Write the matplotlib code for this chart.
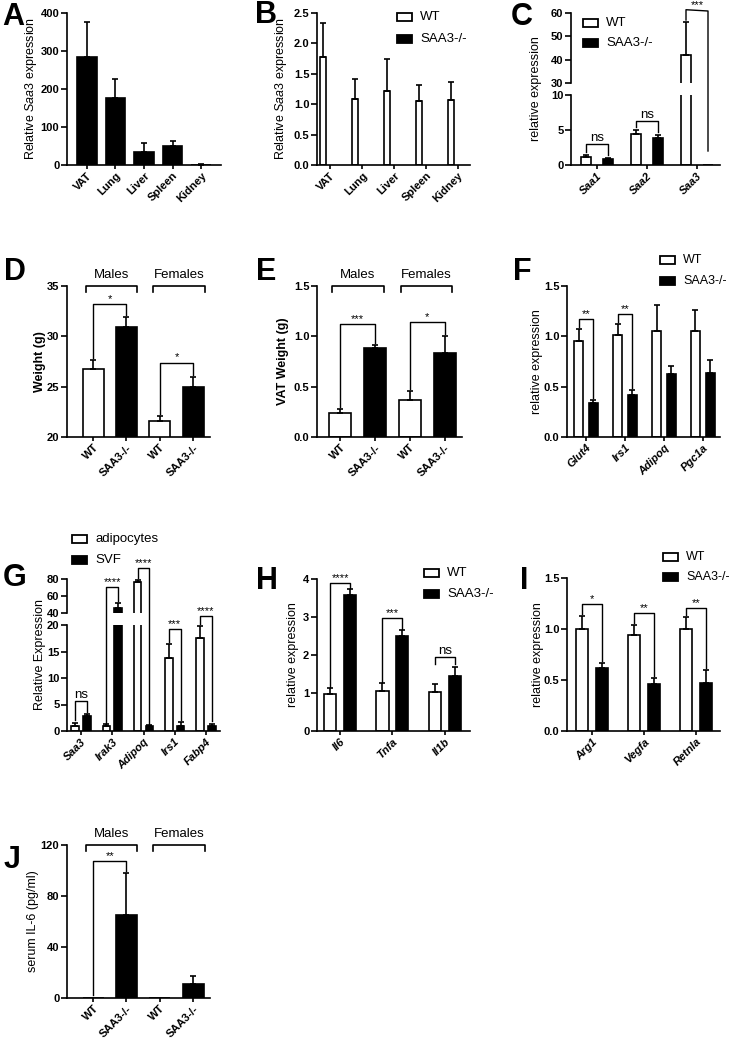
import numpy as np
import matplotlib
matplotlib.use('Agg')
import matplotlib.pyplot as plt
import matplotlib.transforms as mtransforms
from matplotlib.lines import Line2D
from matplotlib.patches import Rectangle

plt.rcParams['font.family'] = 'Liberation Sans'
plt.rcParams['mathtext.fontset'] = 'custom'
plt.rcParams['mathtext.rm'] = 'Liberation Sans'
plt.rcParams['mathtext.it'] = 'Liberation Sans:italic'
plt.rcParams['axes.linewidth'] = 1.2

# ---- data ----
tissues = ['VAT', 'Lung', 'Liver', 'Spleen', 'Kidney']
a_mean = [283, 176, 33, 49, 1]
a_err = [93, 50, 24, 14, 2]

b_wt = [1.78, 1.09, 1.21, 1.06, 1.07]
b_wt_err = [0.56, 0.32, 0.53, 0.26, 0.30]

c_genes = ['Saa1', 'Saa2', 'Saa3']
c_wt = [1.1, 4.5, 42.0]
c_wt_err = [0.4, 0.5, 14.0]
c_ko = [0.8, 3.8, 0.0]
c_ko_err = [0.25, 0.45, 0.0]

sex_labels = ['WT', 'SAA3-/-', 'WT', 'SAA3-/-']
d_mean = [26.8, 30.9, 21.6, 25.0]
d_err = [0.8, 1.0, 0.5, 1.0]

e_mean = [0.24, 0.88, 0.37, 0.83]
e_err = [0.04, 0.03, 0.09, 0.17]

f_genes = ['Glut4', 'Irs1', 'Adipoq', 'Pgc1a']
f_wt = [0.95, 1.01, 1.05, 1.05]
f_wt_err = [0.12, 0.11, 0.26, 0.21]
f_ko = [0.34, 0.42, 0.63, 0.64]
f_ko_err = [0.03, 0.05, 0.08, 0.12]

g_genes = ['Saa3', 'Irak3', 'Adipoq', 'Irs1', 'Fabp4']
g_adi = [0.95, 0.95, 76.0, 13.7, 17.6]
g_adi_err = [0.5, 0.45, 3.0, 2.8, 2.2]
g_svf = [2.8, 45.9, 0.9, 0.95, 0.95]
g_svf_err = [0.5, 5.9, 0.3, 0.75, 0.45]

h_genes = ['Il6', 'Tnfa', 'Il1b']
h_wt = [0.98, 1.05, 1.03]
h_wt_err = [0.15, 0.22, 0.20]
h_ko = [3.59, 2.50, 1.45]
h_ko_err = [0.14, 0.15, 0.23]

i_genes = ['Arg1', 'Vegfa', 'Retnla']
i_wt = [1.00, 0.94, 1.00]
i_wt_err = [0.13, 0.10, 0.12]
i_ko = [0.62, 0.46, 0.47]
i_ko_err = [0.05, 0.06, 0.13]

j_mean = [0, 65, 0, 11]
j_err = [0, 33, 0, 6.5]

# ---- layout helpers ----
W, H = 732, 1041
fig = plt.figure(figsize=(W / 100, H / 100), dpi=100)


def add_ax(l, t, r, b):
    return fig.add_axes([l / W, 1 - b / H, (r - l) / W, (b - t) / H])


def style(ax, yticks, fmt='{:g}', bottom=True):
    for s in ['top', 'right']:
        ax.spines[s].set_visible(False)
    ax.spines['bottom'].set_visible(bottom)
    ax.set_yticks(yticks, [fmt.format(v) for v in yticks], fontweight='bold', fontsize=8)
    ax.tick_params(axis='y', width=1.2, length=4, pad=1.5)
    ax.tick_params(axis='x', width=1.2, length=3, pad=1)
    if not bottom:
        ax.tick_params(axis='x', bottom=False, labelbottom=False)
    ax.patch.set_visible(False)


def xlabels(ax, ticks, labels, italic=False):
    ax.set_xticks(ticks, labels, rotation=45, ha='right', rotation_mode='anchor',
                  fontweight='bold', fontsize=8, fontstyle='italic' if italic else 'normal')


def ylab(ax, text, xpx, **kw):
    # xpx = centre of the label in pixels
    ax.set_ylabel(text, fontsize=9, **kw)
    tr = mtransforms.blended_transform_factory(fig.transFigure, ax.transAxes)
    ax.yaxis.set_label_coords((xpx + 6) / W, 0.5, transform=tr)


def bars(ax, x, vals, errs, color, width):
    x = np.asarray(x, dtype=float)
    vals = np.asarray(vals, dtype=float)
    errs = np.asarray(errs, dtype=float)
    ax.bar(x, vals, width, color=color, edgecolor='black', linewidth=1.2, zorder=2)
    m = errs > 0
    ax.errorbar(x[m], vals[m], yerr=[np.zeros(m.sum()), errs[m]], fmt='none', ecolor='black',
                elinewidth=1.2, capsize=2.5, capthick=1.2, zorder=3)


def to_fig(ax, x, y):
    d = ax.transData.transform((x, y))
    return fig.transFigure.inverted().transform(d)


def sig(pts, label, size=8, gap=0):
    xy = np.array([to_fig(a, x, y) for a, x, y in pts])
    fig.add_artist(Line2D(xy[:, 0], xy[:, 1], color='black', lw=1.0, transform=fig.transFigure))
    xm = (xy[1, 0] + xy[2, 0]) / 2
    fig.text(xm, xy[1, 1] + gap / H, label, ha='center', va='bottom', fontsize=size)


def group_bracket(ax, x1, x2, label):
    tr = ax.get_xaxis_transform()
    ax.plot([x1, x1, x2, x2], [0.96, 1, 1, 0.96], color='black', lw=1.2,
            transform=tr, clip_on=False)
    ax.text((x1 + x2) / 2, 1.035, label, transform=tr, ha='center', va='bottom', fontsize=9.5)


def legend_px(x, y, labels, colors, dy=21, size=9.5):
    for k, (lab, col) in enumerate(zip(labels, colors)):
        yy = y + k * dy
        fig.add_artist(Rectangle((x / W, 1 - (yy + 4) / H), 15 / W, 8 / H, facecolor=col,
                                 edgecolor='black', lw=1.3, transform=fig.transFigure))
        fig.text((x + 23) / W, 1 - yy / H, lab, ha='left', va='center', fontsize=size)


def letter(x, y, s):
    fig.text(x / W, 1 - y / H, s, ha='left', va='center', fontsize=22, fontweight='bold')


# ---- A ----
axA = add_ax(67, 13, 221, 165)
bars(axA, np.arange(5), a_mean, a_err, 'black', 0.7)
axA.set_xlim(-0.7, 4.7)
axA.set_ylim(0, 400)
style(axA, [0, 100, 200, 300, 400])
xlabels(axA, range(5), tissues)
ylab(axA, r'Relative $\mathit{Saa3}$ expression', 33)
letter(2, 17, 'A')

# ---- B ----
axB = add_ax(317, 13, 470, 165)
xb = np.arange(5)
bars(axB, xb - 0.22, b_wt, b_wt_err, 'white', 0.2)
axB.set_xlim(-0.41, 4.38)
axB.set_ylim(0, 2.5)
style(axB, [0, 0.5, 1.0, 1.5, 2.0, 2.5], '{:.1f}')
xlabels(axB, xb, tissues)
ylab(axB, r'Relative $\mathit{Saa3}$ expression', 283)
legend_px(397, 17, ['WT', 'SAA3-/-'], ['white', 'black'], dy=22)
letter(255, 15, 'B')

# ---- C (broken axis) ----
axC1 = add_ax(571, 13, 720, 83)
axC2 = add_ax(571, 95, 720, 165)
xc = np.arange(3)
for ax in (axC1, axC2):
    bars(ax, xc - 0.22, c_wt, c_wt_err, 'white', 0.2)
    bars(ax, xc + 0.22, c_ko, c_ko_err, 'black', 0.2)
    ax.set_xlim(-0.52, 2.46)
axC1.set_ylim(30, 60)
axC2.set_ylim(0, 10)
style(axC1, [30, 40, 50, 60], bottom=False)
style(axC2, [0, 5, 10])
xlabels(axC2, xc, c_genes, italic=True)
fig.text(536 / W, 1 - 89 / H, 'relative expression', rotation=90, ha='center', va='center', fontsize=9)
legend_px(583, 23, ['WT', 'SAA3-/-'], ['white', 'black'], dy=20)
letter(511, 17, 'C')

# ---- D ----
axD = add_ax(67, 286, 210, 437)
xd = np.arange(4)
bars(axD, xd, d_mean, d_err, ['white', 'black', 'white', 'black'], 0.63)
axD.set_xlim(-0.78, 3.5)
axD.set_ylim(20, 35)
style(axD, [20, 25, 30, 35])
xlabels(axD, xd, sex_labels)
ylab(axD, 'Weight (g)', 40, fontweight='bold')
group_bracket(axD, -0.22, 1.33, 'Males')
group_bracket(axD, 1.8, 3.35, 'Females')
letter(4, 272, 'D')

# ---- E ----
axE = add_ax(317, 286, 462, 437)
bars(axE, xd, e_mean, e_err, ['white', 'black', 'white', 'black'], 0.63)
axE.set_xlim(-0.66, 3.49)
axE.set_ylim(0, 1.5)
style(axE, [0, 0.5, 1.0, 1.5], '{:.1f}')
xlabels(axE, xd, sex_labels)
ylab(axE, 'VAT Weight (g)', 283, fontweight='bold')
group_bracket(axE, -0.23, 1.25, 'Males')
group_bracket(axE, 1.73, 3.2, 'Females')
letter(256, 272, 'E')

# ---- F ----
axF = add_ax(567, 286, 720, 437)
xf = np.arange(4)
bars(axF, xf - 0.19, f_wt, f_wt_err, 'white', 0.23)
bars(axF, xf + 0.19, f_ko, f_ko_err, 'black', 0.23)
axF.set_xlim(-0.49, 3.44)
axF.set_ylim(0, 1.5)
style(axF, [0, 0.5, 1.0, 1.5], '{:.1f}')
xlabels(axF, xf, f_genes, italic=True)
ylab(axF, 'relative expression', 537)
legend_px(660, 260, ['WT', 'SAA3-/-'], ['white', 'black'], dy=21, size=9)
letter(513, 272, 'F')

# ---- G (broken axis) ----
axG1 = add_ax(67, 579, 220, 613)
axG2 = add_ax(67, 625, 220, 731)
xg = np.arange(5)
for ax in (axG1, axG2):
    bars(ax, xg - 0.19, g_adi, g_adi_err, 'white', 0.24)
    bars(ax, xg + 0.19, g_svf, g_svf_err, 'black', 0.24)
    ax.set_xlim(-0.45, 4.45)
axG1.set_ylim(40, 80)
axG2.set_ylim(0, 20)
style(axG1, [40, 60, 80], bottom=False)
style(axG2, [0, 5, 10, 15, 20])
xlabels(axG2, xg, g_genes, italic=True)
fig.text(40 / W, 1 - 654 / H, 'Relative Expression', rotation=90, ha='center', va='center', fontsize=9)
legend_px(72, 539, ['adipocytes', 'SVF'], ['white', 'black'], dy=21)
letter(3, 578, 'G')

# ---- H ----
axH = add_ax(317, 579, 470, 731)
xh = np.arange(3)
bars(axH, xh - 0.19, h_wt, h_wt_err, 'white', 0.23)
bars(axH, xh + 0.19, h_ko, h_ko_err, 'black', 0.23)
axH.set_xlim(-0.44, 2.48)
axH.set_ylim(0, 4)
style(axH, [0, 1, 2, 3, 4])
xlabels(axH, xh, h_genes, italic=True)
ylab(axH, 'relative expression', 293)
legend_px(424, 573, ['WT', 'SAA3-/-'], ['white', 'black'], dy=21)
letter(256, 581, 'H')

# ---- I ----
axI = add_ax(567, 578, 720, 731)
xi = np.arange(3)
bars(axI, xi - 0.19, i_wt, i_wt_err, 'white', 0.23)
bars(axI, xi + 0.19, i_ko, i_ko_err, 'black', 0.23)
axI.set_xlim(-0.48, 2.46)
axI.set_ylim(0, 1.5)
style(axI, [0, 0.5, 1.0, 1.5], '{:.1f}')
xlabels(axI, xi, i_genes, italic=True)
ylab(axI, 'relative expression', 538)
legend_px(663, 557, ['WT', 'SAA3-/-'], ['white', 'black'], dy=20, size=9)
letter(520, 581, 'I')

# ---- J ----
axJ = add_ax(67, 845, 210, 998)
bars(axJ, xd, j_mean, j_err, ['white', 'black', 'white', 'black'], 0.63)
axJ.set_xlim(-0.78, 3.5)
axJ.set_ylim(0, 120)
style(axJ, [0, 40, 80, 120])
xlabels(axJ, xd, sex_labels)
ylab(axJ, 'serum IL-6 (pg/ml)', 33)
group_bracket(axJ, -0.22, 1.33, 'Males')
group_bracket(axJ, 1.8, 3.35, 'Females')
letter(4, 860, 'J')

# ---- significance brackets ----
sig([(axC2, -0.22, 1.9), (axC2, -0.22, 3.0), (axC2, 0.22, 3.0), (axC2, 0.22, 1.4)], 'ns', 9.5)
sig([(axC2, 0.78, 5.5), (axC2, 0.78, 6.3), (axC2, 1.22, 6.3), (axC2, 1.22, 4.7)], 'ns', 9.5)
sig([(axC1, 1.78, 57), (axC1, 1.78, 61.4), (axC2, 2.22, 22), (axC2, 2.22, 2)], '***')

sig([(axD, 0, 27.8), (axD, 0, 33.2), (axD, 1, 33.2), (axD, 1, 32.1)], '*')
sig([(axD, 2, 22.3), (axD, 2, 27.4), (axD, 3, 27.4), (axD, 3, 26.2)], '*')

sig([(axE, 0, 0.30), (axE, 0, 1.12), (axE, 1, 1.12), (axE, 1, 0.93)], '***')
sig([(axE, 2, 0.48), (axE, 2, 1.14), (axE, 3, 1.14), (axE, 3, 1.02)], '*')

sig([(axF, -0.19, 1.09), (axF, -0.19, 1.17), (axF, 0.19, 1.17), (axF, 0.19, 0.39)], '**')
sig([(axF, 0.81, 1.14), (axF, 0.81, 1.22), (axF, 1.19, 1.22), (axF, 1.19, 0.49)], '**')

sig([(axG2, -0.19, 2.0), (axG2, -0.19, 5.6), (axG2, 0.19, 5.6), (axG2, 0.19, 3.6)], 'ns', 9.5)
sig([(axG2, 0.81, 1.1), (axG1, 0.81, 70.2), (axG1, 1.19, 70.2), (axG1, 1.19, 53.7)], '****')
sig([(axG1, 1.81, 81), (axG1, 1.81, 92.9), (axG1, 2.19, 92.9), (axG2, 2.19, 1.1)], '****')
sig([(axG2, 2.81, 16.8), (axG2, 2.81, 19.2), (axG2, 3.19, 19.2), (axG2, 3.19, 2.0)], '***')
sig([(axG2, 3.81, 20.1), (axG2, 3.81, 21.7), (axG2, 4.19, 21.7), (axG2, 4.19, 1.8)], '****')

sig([(axH, -0.19, 1.16), (axH, -0.19, 3.89), (axH, 0.19, 3.89), (axH, 0.19, 3.76)], '****')
sig([(axH, 0.81, 1.3), (axH, 0.81, 2.98), (axH, 1.19, 2.98), (axH, 1.19, 2.68)], '***')
sig([(axH, 1.81, 1.77), (axH, 1.81, 1.96), (axH, 2.19, 1.96), (axH, 2.19, 1.77)], 'ns', 9.5)

sig([(axI, -0.19, 1.15), (axI, -0.19, 1.245), (axI, 0.19, 1.245), (axI, 0.19, 0.69)], '*')
sig([(axI, 0.81, 1.06), (axI, 0.81, 1.157), (axI, 1.19, 1.157), (axI, 1.19, 0.54)], '**')
sig([(axI, 1.81, 1.14), (axI, 1.81, 1.21), (axI, 2.19, 1.21), (axI, 2.19, 0.62)], '**')

sig([(axJ, 0, 2), (axJ, 0, 107.7), (axJ, 1, 107.7), (axJ, 1, 100)], '**')

fig.savefig('out.png', dpi=100)
